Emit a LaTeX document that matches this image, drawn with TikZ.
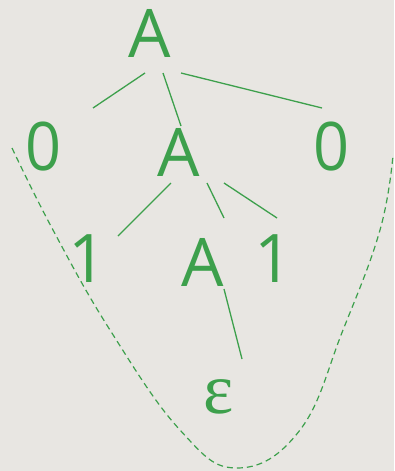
\documentclass[tikz,border=0pt]{standalone}
\usepackage{fontspec}
\setmainfont{Open Sans}
\newfontfamily\epsfont{Liberation Serif}
\definecolor{tgreen}{HTML}{3DA04C}
\definecolor{bgc}{HTML}{E8E6E2}
\begin{document}
\begin{tikzpicture}[x=1pt,y=-1pt,
  sym/.style={text=tgreen,font=\fontsize{67}{67}\selectfont,inner sep=0pt,anchor=center},
  edge/.style={draw=tgreen,line width=1.3pt},
  bound/.style={draw=tgreen,line width=1.2pt,dash pattern=on 6pt off 4pt}]
\fill[bgc] (0,0) rectangle (394,471);
\useasboundingbox (0,0) rectangle (394,471);
\node[sym] (a1) at (150,33) {A};
\node[sym,xscale=0.94] (z1) at (44,147) {0};
\node[sym] (a2) at (179,152) {A};
\node[sym,xscale=0.94] (z2) at (332,147) {0};
\node[sym] (o1) at (88,259) {1};
\node[sym] (a3) at (203,262) {A};
\node[sym] (o2) at (274,259) {1};
\node[text=tgreen,font=\epsfont\fontsize{72}{72}\selectfont,inner sep=0pt] (e) at (219,397) {ε};
\coordinate (p1s) at (145,73); \coordinate (p1e) at (93,108);
\coordinate (p2s) at (163,73); \coordinate (p2e) at (181,126);
\coordinate (p3s) at (181,73); \coordinate (p3e) at (322,108);
\coordinate (q1s) at (171,183); \coordinate (q1e) at (118,236);
\coordinate (q2s) at (207,183); \coordinate (q2e) at (224,218);
\coordinate (q3s) at (224,183); \coordinate (q3e) at (277,218);
\coordinate (r1s) at (224,289); \coordinate (r1e) at (242,359);
\draw[edge] (p1s) -- (p1e);
\draw[edge] (p2s) -- (p2e);
\draw[edge] (p3s) -- (p3e);
\draw[edge] (q1s) -- (q1e);
\draw[edge] (q2s) -- (q2e);
\draw[edge] (q3s) -- (q3e);
\draw[edge] (r1s) -- (r1e);
\draw[bound] plot[smooth,tension=0.7] coordinates {(12,148) (53,230) (110,330) (180,430) (237,468) (300,430) (343,330) (380,230) (393,155)};
\end{tikzpicture}
\end{document}
